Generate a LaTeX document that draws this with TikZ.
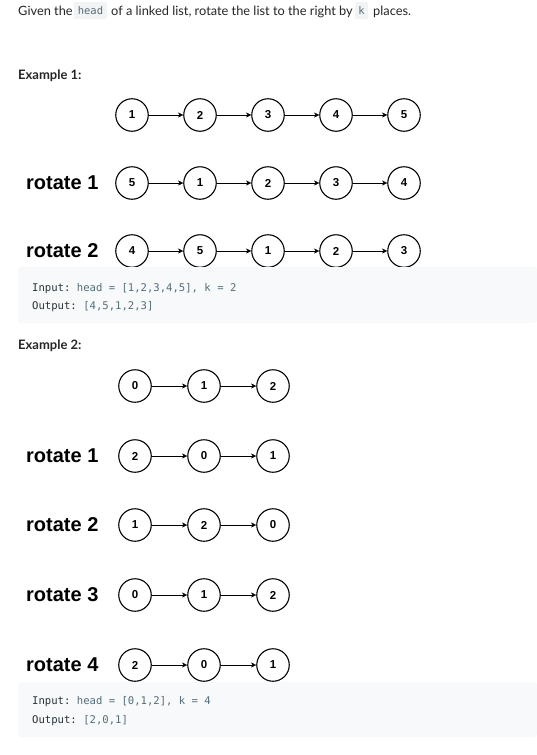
\documentclass[tikz,border=0pt]{standalone}
\usepackage{fontspec}
\setmainfont{Lato}
\setmonofont{DejaVu Sans Mono}
\newfontfamily\arialfont{Liberation Sans}
\usetikzlibrary{positioning, arrows.meta}

\definecolor{bodytext}{HTML}{262626}
\definecolor{codegray}{HTML}{546E7A}
\definecolor{codedark}{HTML}{263238}
\definecolor{codebg}{HTML}{F7F9FA}
\definecolor{inlinebg}{HTML}{F2F3F5}

\tikzset{
    listnode/.style={circle, draw=black, line width=1.1pt, minimum size=32.5pt, inner sep=0pt,
        font=\arialfont\bfseries\fontsize{11.5}{12}\selectfont},
    rotlabel/.style={anchor=west, inner sep=0pt, font=\arialfont\bfseries\fontsize{20}{20}\selectfont},
    bodyline/.style={anchor=base west, inner sep=0pt, text=bodytext, font=\fontsize{12.8}{14}\selectfont},
    heading/.style={anchor=base west, inner sep=0pt, text=bodytext, font=\bfseries\fontsize{13}{14}\selectfont},
    inlinecode/.style={fill=inlinebg, rounded corners=2pt, inner sep=0pt, text=codegray,
        font=\ttfamily\fontsize{10.5}{11}\selectfont},
    codeline/.style={anchor=base west, inner sep=0pt, text=codegray, font=\ttfamily\fontsize{10.6}{11}\selectfont},
    codebox/.style={fill=codebg, rounded corners=3pt}
}

\begin{document}
\begin{tikzpicture}[x=1pt, y=-1pt, >={Stealth[length=5pt, width=5pt, inset=1.2pt]}]
    \fill[white] (0, 0) rectangle (537, 755);
    \useasboundingbox (0, 0) rectangle (537, 755);

    % problem statement
    \node[bodyline] (given) at (18, 15.7) {Given the};
    \node[inlinecode, minimum width=33pt, minimum height=17pt] (headcode) at (90.5, 10.5) {head};
    \node[bodyline] (middle) at (111, 15.7) {of a linked list, rotate the list to the right by};
    \node[inlinecode, minimum width=13pt, minimum height=17pt] (kcode) at (361.5, 10.5) {k};
    \node[bodyline] (places) at (373, 15.7) {places.};

    % example 1
    \node[heading] (example1) at (18, 79) {Example 1:};

    \node[listnode] (orig1) at (132, 115) {1};
    \node[listnode] (orig2) at (200, 115) {2};
    \node[listnode] (orig3) at (268, 115) {3};
    \node[listnode] (orig4) at (336, 115) {4};
    \node[listnode] (orig5) at (404, 115) {5};

    \node[rotlabel] (rone) at (26, 183) {rotate 1};
    \node[listnode] (rone1) at (132, 183) {5};
    \node[listnode] (rone2) at (200, 183) {1};
    \node[listnode] (rone3) at (268, 183) {2};
    \node[listnode] (rone4) at (336, 183) {3};
    \node[listnode] (rone5) at (404, 183) {4};

    \node[rotlabel] (rtwo) at (26, 251) {rotate 2};
    \node[listnode] (rtwo1) at (132, 251) {4};
    \node[listnode] (rtwo2) at (200, 251) {5};
    \node[listnode] (rtwo3) at (268, 251) {1};
    \node[listnode] (rtwo4) at (336, 251) {2};
    \node[listnode] (rtwo5) at (404, 251) {3};

    \draw [->] (orig1) -- (orig2);
    \draw [->] (orig2) -- (orig3);
    \draw [->] (orig3) -- (orig4);
    \draw [->] (orig4) -- (orig5);
    \draw [->] (rone1) -- (rone2);
    \draw [->] (rone2) -- (rone3);
    \draw [->] (rone3) -- (rone4);
    \draw [->] (rone4) -- (rone5);
    \draw [->] (rtwo1) -- (rtwo2);
    \draw [->] (rtwo2) -- (rtwo3);
    \draw [->] (rtwo3) -- (rtwo4);
    \draw [->] (rtwo4) -- (rtwo5);

    \fill[codebox] (18, 267) rectangle (537, 323);
    \node[codeline] (input1) at (32, 291) {\textcolor{codedark}{Input:} head = [1,2,3,4,5], k = 2};
    \node[codeline] (output1) at (32, 309) {\textcolor{codedark}{Output:} [4,5,1,2,3]};

    % example 2
    \node[heading] (example2) at (18, 349) {Example 2:};

    \node[listnode] (origb1) at (135, 386) {0};
    \node[listnode] (origb2) at (204, 386) {1};
    \node[listnode] (origb3) at (273, 386) {2};

    \node[rotlabel] (roneb) at (26, 456) {rotate 1};
    \node[listnode] (roneb1) at (135, 456) {2};
    \node[listnode] (roneb2) at (204, 456) {0};
    \node[listnode] (roneb3) at (273, 456) {1};

    \node[rotlabel] (rtwob) at (26, 525) {rotate 2};
    \node[listnode] (rtwob1) at (135, 525) {1};
    \node[listnode] (rtwob2) at (204, 525) {2};
    \node[listnode] (rtwob3) at (273, 525) {0};

    \node[rotlabel] (rthreeb) at (26, 595) {rotate 3};
    \node[listnode] (rthreeb1) at (135, 595) {0};
    \node[listnode] (rthreeb2) at (204, 595) {1};
    \node[listnode] (rthreeb3) at (273, 595) {2};

    \node[rotlabel] (rfourb) at (26, 665) {rotate 4};
    \node[listnode] (rfourb1) at (135, 665) {2};
    \node[listnode] (rfourb2) at (204, 665) {0};
    \node[listnode] (rfourb3) at (273, 665) {1};

    \draw [->] (origb1) -- (origb2);
    \draw [->] (origb2) -- (origb3);
    \draw [->] (roneb1) -- (roneb2);
    \draw [->] (roneb2) -- (roneb3);
    \draw [->] (rtwob1) -- (rtwob2);
    \draw [->] (rtwob2) -- (rtwob3);
    \draw [->] (rthreeb1) -- (rthreeb2);
    \draw [->] (rthreeb2) -- (rthreeb3);
    \draw [->] (rfourb1) -- (rfourb2);
    \draw [->] (rfourb2) -- (rfourb3);

    \fill[codebox] (18, 682) rectangle (537, 737);
    \node[codeline] (input2) at (32, 704) {\textcolor{codedark}{Input:} head = [0,1,2], k = 4};
    \node[codeline] (output2) at (32, 723) {\textcolor{codedark}{Output:} [2,0,1]};
\end{tikzpicture}
\end{document}
